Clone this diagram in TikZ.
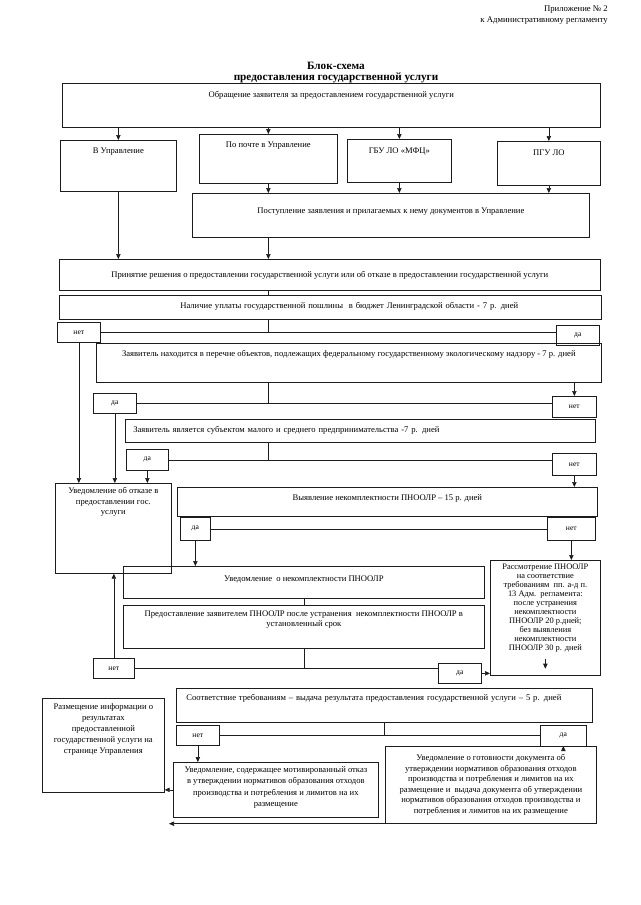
\documentclass[tikz,border=0pt]{standalone}
\usepackage{fontspec}
\setmainfont{Liberation Serif}
\usetikzlibrary{arrows.meta,calc,positioning}
\definecolor{inkGray}{HTML}{1C1C1C}

\begin{document}
\begin{tikzpicture}[
  x=1pt,y=-1pt,
  font=\fontsize{8.6}{10.5}\selectfont,
  blk/.style={draw=inkGray,line width=0.7pt,anchor=north west,inner ysep=0pt},
  ans/.style={draw=inkGray,line width=0.7pt,anchor=north west,inner sep=0pt,font=\fontsize{7.6}{8}\selectfont},
  ln/.style={draw=inkGray,line width=0.6pt},
  arr/.style={ln,-{Triangle[length=5pt,width=4.4pt]}}
]
  \useasboundingbox (0,0) rectangle (640,905);

  \node[anchor=base east,inner sep=0pt,font=\fontsize{8.7}{10}\selectfont] (prilozh) at (608,11) {Приложение № 2};
  \node[anchor=base east,inner sep=0pt,font=\fontsize{8.7}{10}\selectfont] (reglam) at (608,22) {к Административному регламенту};
  \node[anchor=base,inner sep=0pt,font=\bfseries\fontsize{11.2}{12}\selectfont] (titleA) at (336,69) {Блок-схема};
  \node[anchor=base,inner sep=0pt,font=\bfseries\fontsize{11.2}{12}\selectfont] (titleB) at (336,80) {предоставления государственной услуги};

  \node[blk,minimum width=538pt,text height=14pt,text depth=30pt] (obr) at (62,83) {Обращение заявителя за предоставлением государственной услуги};
  \node[blk,minimum width=116pt,text height=13pt,text depth=38pt] (vupr) at (60,140) {В Управление};
  \node[blk,minimum width=138pt,text height=13pt,text depth=36pt] (pochta) at (199,134) {По почте в Управление};
  \node[blk,minimum width=104pt,text height=14pt,text depth=29pt] (mfc) at (347,139) {ГБУ ЛО «МФЦ»};
  \node[blk,minimum width=103pt,text height=14pt,text depth=30pt] (pgu) at (497,141) {ПГУ ЛО};
  \node[blk,minimum width=397pt,text height=20pt,text depth=24pt] (postup) at (192,193) {Поступление заявления и прилагаемых к нему документов в Управление};

  \node[blk,minimum width=541pt,text height=18pt,text depth=13pt] (prinyat) at (59,259) {Принятие решения о предоставлении государственной услуги или об отказе в предоставлении государственной услуги};
  \node[blk,text width=526pt,inner xsep=8pt,align=left,text height=13pt,text depth=11pt] (uplata) at (59,295) {\hspace*{113pt}Наличие уплаты государственной пошлины\ \ в бюджет Ленинградской области - 7 р. дней};
  \node[ans,minimum width=43pt,minimum height=20pt] (upl-net) at (57,322) {нет};
  \node[ans,minimum width=43pt,minimum height=20pt] (upl-da) at (556,325) {да};

  \node[blk,minimum width=505pt,text height=13pt,text depth=26pt] (nadzor) at (96,343) {Заявитель находится в перечне объектов, подлежащих федеральному государственному экологическому надзору - 7 р. дней};
  \node[ans,minimum width=43pt,minimum height=20pt] (ndz-da) at (93,393) {да};
  \node[ans,minimum width=44pt,minimum height=21pt] (ndz-net) at (552,396) {нет};

  \node[blk,text width=454pt,inner xsep=8pt,align=left,text height=13pt,text depth=10pt] (msp) at (125,419) {Заявитель является субъектом малого и среднего предпринимательства -7 р. дней};
  \node[ans,minimum width=42pt,minimum height=21pt] (msp-da) at (126,449) {да};
  \node[ans,minimum width=44pt,minimum height=22pt] (msp-net) at (552,453) {нет};

  \node[blk,inner sep=0pt] (otkaz) at (55,483) {\parbox[c][90pt][t]{116pt}{\centering\vspace*{4pt}Уведомление об отказе в\\предоставлении гос.\\услуги}};
  \node[blk,minimum width=420pt,text height=13pt,text depth=16pt] (vyyavl) at (177,487) {Выявление некомплектности ПНООЛР – 15 р. дней};
  \node[ans,minimum width=30pt,minimum height=23pt] (vyy-da) at (180,517) {да};
  \node[ans,minimum width=48pt,minimum height=23pt] (vyy-net) at (547,517) {нет};

  \node[blk,minimum width=361pt,text height=15pt,text depth=17pt] (uvnek) at (123,566) {Уведомление\ \ о некомплектности ПНООЛР};
  \node[blk,inner sep=0pt] (predost) at (123,605) {\parbox[c][43pt][t]{361pt}{\centering\vspace*{5pt}Предоставление заявителем ПНООЛР после устранения\ \ некомплектности ПНООЛР в\\установленный срок}};
  \node[blk,inner sep=0pt] (rassm) at (490,560) {\parbox[c][115pt][t]{110pt}{\fontsize{8.4}{9}\selectfont\centering\vspace*{4pt}Рассмотрение ПНООЛР\\на соответствие\\требованиям\ \ пп. а-д п.\\13 Адм.\ \ регламента:\\после устранения\\некомплектности\\ПНООЛР 20 р.дней;\\без выявления\\некомплектности\\ПНООЛР 30 р. дней}};
  \node[ans,minimum width=41pt,minimum height=20pt] (pr-net) at (93,658) {нет};
  \node[ans,minimum width=43pt,minimum height=20pt] (pr-da) at (438,663) {да};

  \node[blk,text width=396pt,inner xsep=10pt,align=left,text height=12pt,text depth=22pt] (sootv) at (176,688) {Соответствие требованиям – выдача результата предоставления государственной услуги – 5 р. дней};
  \node[blk,inner sep=0pt] (razm) at (42,698) {\parbox[c][94pt][t]{122pt}{\fontsize{8.6}{11}\selectfont\centering\vspace*{5pt}Размещение информации о\\результатах\\предоставленной\\государственной услуги на\\странице Управления}};
  \node[ans,minimum width=43pt,minimum height=20pt] (s-net) at (176,725) {нет};
  \node[ans,minimum width=46pt,minimum height=21pt] (s-da) at (540,725) {да};
  \node[blk,inner sep=0pt] (motiv) at (173,762) {\parbox[c][55pt][t]{205pt}{\fontsize{8.6}{11.5}\selectfont\centering\vspace*{4pt}Уведомление, содержащее мотивированный отказ\\в утверждении нормативов образования отходов\\производства и потребления и лимитов на их\\размещение}};
  \node[blk,inner sep=0pt] (gotov) at (385,746) {\parbox[c][77pt][t]{211pt}{\fontsize{8.6}{10.6}\selectfont\centering\vspace*{8pt}Уведомление о готовности документа об\\утверждении нормативов образования отходов\\производства и потребления и лимитов на их\\размещение и\ \ выдача документа об утверждении\\нормативов образования отходов производства и\\потребления и лимитов на их размещение}};
  \coordinate (ret-end) at ($(motiv.south west)+(-4,4)$);

  \draw[arr] (vupr.north |- obr.south) -- (vupr.north);
  \draw[arr] (pochta.north |- obr.south) -- (pochta.north);
  \draw[arr] (mfc.north |- obr.south) -- (mfc.north);
  \draw[arr] (pgu.north |- obr.south) -- (pgu.north);
  \draw[arr] (pochta.south) -- (pochta.south |- postup.north);
  \draw[arr] (mfc.south) -- (mfc.south |- postup.north);
  \draw[arr] (pgu.south) -- (pgu.south |- postup.north);
  \draw[arr] (vupr.south) -- (vupr.south |- prinyat.north);
  \draw[arr] (pochta.south |- postup.south) -- (pochta.south |- prinyat.north);

  \draw[ln] (pochta.south |- prinyat.south) -- (pochta.south |- uplata.north);
  \draw[ln] (pochta.south |- uplata.south) -- (pochta.south |- upl-net.east);
  \draw[ln] (upl-net.east) -- (upl-net.east -| upl-da.west);
  \draw[arr] (upl-net.south) -- (upl-net.south |- otkaz.north);

  \draw[ln] (pochta.south |- nadzor.south) -- (pochta.south |- ndz-da.east);
  \draw[ln] (ndz-da.east) -- (ndz-da.east -| ndz-net.west);
  \draw[arr] (ndz-net.north |- nadzor.south) -- (ndz-net.north);
  \draw[arr] (ndz-da.south) -- (ndz-da.south |- otkaz.north);

  \draw[ln] (pochta.south |- msp.south) -- (pochta.south |- msp-da.east);
  \draw[ln] (msp-da.east) -- (msp-da.east -| msp-net.west);
  \draw[arr] (msp-da.south) -- (msp-da.south |- otkaz.north);
  \draw[arr] (msp-net.south) -- (msp-net.south |- vyyavl.north);

  \draw[ln] ($(vyyavl.south west)!0.44!(vyyavl.south east)$) -- ($(vyyavl.south west)!0.44!(vyyavl.south east)$ |- vyy-da.east);
  \draw[ln] (vyy-da.east) -- (vyy-da.east -| vyy-net.west);
  \draw[arr] (vyy-da.south) -- (vyy-da.south |- uvnek.north);
  \draw[arr] (vyy-net.south) -- (vyy-net.south |- rassm.north);

  \draw[ln] (uvnek.south) -- (predost.north);
  \draw[ln] (predost.south) -- (predost.south |- pr-net.east);
  \draw[ln] (pr-net.east) -- (pr-net.east -| pr-da.west);
  \draw[arr] (pr-da.east) -- (pr-da.east -| rassm.west);
  \draw[arr] (pr-net.north) -- (pr-net.north |- otkaz.south);
  \draw[arr] ($(rassm.south)+(0,-17)$) -- ($(rassm.south)+(0,-7)$);

  \draw[ln] (sootv.south) -- (sootv.south |- s-net.east);
  \draw[ln] (s-net.east) -- (s-net.east -| s-da.west);
  \draw[arr] (s-net.south) -- (s-net.south |- motiv.north);
  \draw[arr] (s-da.south) -- (s-da.south |- gotov.north);
  \draw[arr] (motiv.west) -- (motiv.west -| razm.east);
  \draw[arr] (gotov.south west) -- (gotov.south west -| ret-end);
\end{tikzpicture}
\end{document}
